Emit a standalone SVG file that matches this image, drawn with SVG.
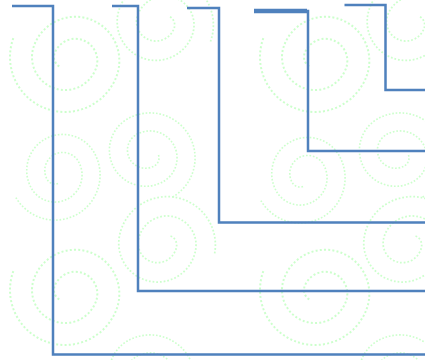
<svg xmlns="http://www.w3.org/2000/svg" width="425" height="360" viewBox="0 0 425 360">
<style>
.sp{fill:none;stroke:#ccffcc;stroke-width:2;stroke-dasharray:2 2.2}
.ln{fill:none;stroke:#4f81bd;stroke-width:2.5;stroke-linejoin:miter}
</style>
<defs>
<path id="spiral" d="M55,0 A55,55 0 0 0 -55,0 A44,44 0 0 0 33,0 A33,33 0 0 0 -33,0 A22,22 0 0 0 11,0 A11,11 0 0 0 0,-11"/>
</defs>
<rect width="425" height="360" fill="#ffffff"/>
<g id="background">
<use href="#spiral" class="sp" transform="translate(65,57) rotate(200)"/>
<use href="#spiral" class="sp" transform="translate(315,57) rotate(200)"/>
<use href="#spiral" class="sp" transform="translate(65,290) rotate(200)"/>
<use href="#spiral" class="sp" transform="translate(315,290) rotate(200)"/>
<use href="#spiral" class="sp" transform="translate(165,25) rotate(20) scale(0.88)"/>
<use href="#spiral" class="sp" transform="translate(415,25) rotate(20) scale(0.88)"/>
<use href="#spiral" class="sp" transform="translate(150,158) rotate(60) scale(0.82)"/>
<use href="#spiral" class="sp" transform="translate(400,158) rotate(60) scale(0.82)"/>
<use href="#spiral" class="sp" transform="translate(55,175) rotate(150) scale(0.82)"/>
<use href="#spiral" class="sp" transform="translate(300,178) rotate(150) scale(0.82)"/>
<use href="#spiral" class="sp" transform="translate(167,245) rotate(10) scale(0.88)"/>
<use href="#spiral" class="sp" transform="translate(412,245) rotate(10) scale(0.88)"/>
<use href="#spiral" class="sp" transform="translate(150,380) rotate(60) scale(0.82)"/>
<use href="#spiral" class="sp" transform="translate(400,380) rotate(60) scale(0.82)"/>
</g>
<g id="connectors">
<path class="ln" d="M12,6 H53 V354.5 H425"/>
<path class="ln" d="M112,6 H138 V291 H425"/>
<path class="ln" d="M187,8 H219 V222.5 H425"/>
<path class="ln" d="M254,11 H308 V151 H425"/>
<path class="ln" d="M254,11 H307" style="stroke-width:4.5"/>
<path class="ln" d="M344.5,5 H385.5 V90 H425"/>
</g>
</svg>
